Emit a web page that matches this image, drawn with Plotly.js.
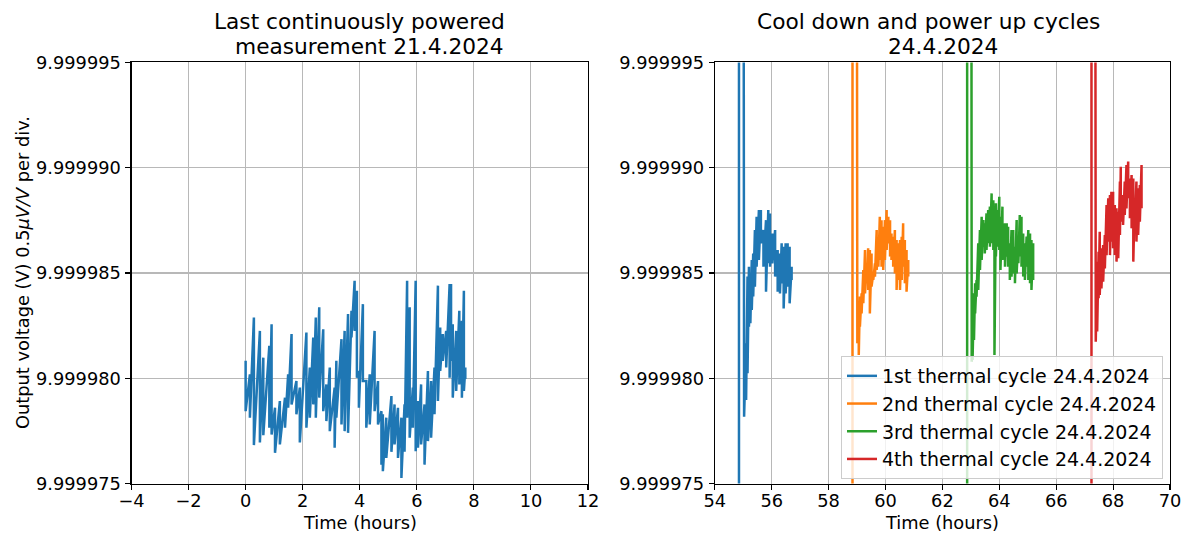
<!DOCTYPE html>
<html>
<head>
<meta charset="utf-8">
<script src="https://cdn.plot.ly/plotly-3.0.1.min.js"></script>
<style>
  html, body { margin: 0; padding: 0; background: #fff; }
  #chart { width: 1188px; height: 534px; }
</style>
</head>
<body>
<div id="chart"></div>
<script>
// Values are in microvolts relative to 9.999980 V
const BASE_V = 9.999980;

// ---- Left: last continuously powered measurement 21.4.2024 ----
const hoursL = [0.00,0.15,0.29,0.50,0.62,0.83,0.91,1.03,1.20,1.38,1.49,1.61,1.78,1.90,2.13,2.25,2.37,2.46,2.58,2.72,2.83,2.95,3.12,3.18,3.36,3.47,3.59,3.71,3.82,3.90,3.97,4.11,4.23,4.35,4.52,4.64,4.76,4.81,4.93,5.11,5.22,5.34,5.46,5.57,5.66,5.75,5.86,5.96,6.04,6.15,6.27,6.39,6.50,6.62,6.74,6.82,6.91,7.03,7.15,7.20,7.26,7.38,7.49,7.58,7.65,7.70];
const hiL = [0.83,0.19,2.89,2.25,0.98,1.54,2.57,-1.40,-1.08,-0.92,0.19,2.10,-0.13,-0.44,2.17,0.51,1.94,2.89,3.37,2.33,-0.29,0.51,-0.44,0.83,1.86,2.25,3.05,3.21,4.63,4.16,0.35,3.52,-0.13,0.19,2.25,-0.13,-1.56,-1.71,-1.87,-0.84,-1.24,-1.40,-1.87,-1.24,4.63,3.37,-0.44,4.63,-1.08,-0.29,-1.24,0.35,-0.13,0.51,4.40,2.41,2.10,2.25,4.48,4.48,2.57,2.25,3.21,2.73,4.16,0.51];
const loL = [-1.56,-1.87,-3.17,-3.05,-2.70,-2.35,-2.67,-3.54,-3.14,-2.35,-1.40,-1.24,-1.71,-3.05,-2.35,-1.87,-1.24,-1.87,-0.92,-1.56,-2.03,-2.51,-3.30,-1.87,-2.19,-2.51,-2.59,1.94,2.25,0.03,-1.40,-0.13,-2.35,-2.19,-1.56,-2.19,-4.10,-4.41,-3.78,-3.49,-3.14,-3.78,-4.73,-3.49,-1.87,-2.82,-2.35,-3.46,-3.30,-3.14,-4.10,-2.98,-2.82,-1.71,-1.08,0.35,0.83,0.51,0.03,0.83,-0.92,-0.60,-0.29,-0.92,-0.60,-0.03];

// ---- Right: cool down and power up cycles 24.4.2024 ----
const cycleNames = ["1st thermal cycle 24.4.2024","2nd thermal cycle 24.4.2024","3rd thermal cycle 24.4.2024","4th thermal cycle 24.4.2024"];
const cycleColors = ["#1f77b4","#ff7f0e","#2ca02c","#d62728"];

// power-up transient (goes off-scale)
const spikeH1 = [54.85,54.85,55.00];
const spikeV1 = [-40,40,40];
const spikeH2 = [58.84,58.84,58.98];
const spikeV2 = [-40,40,40];
const spikeH3 = [62.87,62.87,63.01];
const spikeV3 = [-40,40,40];
const spikeH4 = [67.24,67.24,67.36];
const spikeV4 = [-40,40,40];

const hours1 = [55.03,55.10,55.15,55.20,55.25,55.30,55.35,55.41,55.47,55.55,55.62,55.71,55.80,55.88,55.94,56.02,56.12,56.21,56.29,56.35,56.42,56.49,56.56,56.63,56.70];
const hi1 = [-1.03,1.66,4.83,5.30,4.98,5.62,5.93,7.04,7.67,7.99,7.99,7.04,7.51,7.99,7.83,6.88,7.04,6.09,5.93,6.41,6.25,6.41,6.41,6.25,5.30];
const lo1 = [-1.82,-1.03,0.24,2.45,2.61,3.24,3.88,4.35,5.30,5.62,6.41,5.30,4.11,5.46,5.30,5.46,4.83,4.11,4.03,4.51,3.32,4.03,4.35,3.56,4.67];

const hours2 = [59.01,59.06,59.10,59.16,59.22,59.28,59.34,59.39,59.45,59.51,59.57,59.63,59.69,59.75,59.80,59.86,59.92,59.98,60.04,60.10,60.16,60.21,60.27,60.33,60.39,60.45,60.51,60.57,60.62,60.68,60.74,60.80];
const hi2 = [2.13,2.61,3.88,4.03,5.14,6.09,5.46,6.17,6.09,5.93,4.98,5.46,7.04,6.72,7.67,7.51,7.20,7.51,7.99,7.67,7.51,6.88,6.72,7.04,6.57,6.41,6.57,6.72,7.36,6.57,6.09,5.62];
const lo2 = [1.66,1.11,2.45,3.08,3.56,4.03,4.51,4.19,3.08,4.35,4.67,4.83,5.14,5.30,5.62,5.30,5.14,5.62,6.09,6.41,5.78,5.62,5.30,4.98,4.19,4.67,4.19,4.67,5.30,4.51,4.11,4.83];

const hours3 = [63.03,63.06,63.11,63.15,63.20,63.26,63.32,63.38,63.44,63.49,63.55,63.61,63.67,63.73,63.79,63.83,63.88,63.93,64.00,64.04,64.11,64.20,64.26,64.31,64.37,64.43,64.49,64.55,64.61,64.67,64.72,64.78,64.84,64.90,64.96,65.02,65.08,65.13,65.19];
const hi3 = [1.50,2.77,4.04,4.51,4.67,6.41,7.04,7.67,7.52,7.36,7.83,7.99,8.15,8.78,8.46,8.15,8.31,7.99,8.62,7.67,8.15,7.36,7.36,7.20,6.41,7.04,7.04,6.25,7.52,6.73,7.75,7.67,6.88,6.41,6.73,7.04,6.88,6.57,6.41];
const lo3 = [0.78,0.87,1.82,3.08,3.88,4.19,5.14,5.62,6.25,5.93,6.09,6.41,6.25,6.41,6.09,1.11,5.78,6.25,6.09,5.14,5.62,5.30,5.78,5.30,4.67,4.83,4.98,4.51,4.98,5.46,5.78,5.30,4.83,4.67,5.30,4.67,4.51,4.19,4.67];

const hours4 = [67.39,67.44,67.49,67.53,67.59,67.65,67.71,67.77,67.83,67.89,67.94,68.00,68.06,68.12,68.18,68.24,68.27,68.35,68.41,68.47,68.53,68.59,68.65,68.71,68.76,68.82,68.88,68.94,69.00];
const hi4 = [4.59,5.54,6.01,6.96,6.17,6.33,6.80,8.23,8.55,8.70,8.86,8.86,8.23,8.07,7.91,9.34,10.05,8.70,9.34,10.13,10.29,9.49,9.65,9.49,8.55,9.34,9.02,9.18,10.13];
const lo4 = [1.74,2.22,3.80,3.96,4.27,4.59,5.22,5.85,6.49,5.85,6.49,6.17,5.85,5.54,5.70,6.80,7.44,7.28,7.76,8.07,8.55,7.60,7.12,5.54,7.12,6.49,6.81,7.44,8.07];

const toV = uv => BASE_V + uv * 1e-6;

function buildXY(spikeH, spikeV, hours, hi, lo) {
  const x = [], y = [];
  for (let i = 0; i < spikeH.length; i++) { x.push(spikeH[i]); y.push(toV(spikeV[i])); }
  for (let i = 0; i < hours.length; i++) {
    x.push(hours[i]); y.push(toV(hi[i]));
    x.push(hours[i]); y.push(toV(lo[i]));
  }
  return {x, y};
}

const FONT = "DejaVu Sans, sans-serif";
const LW = 2.5;
const traces = [];
const left = buildXY([], [], hoursL, hiL, loL);
traces.push({type:"scatter", mode:"lines", x:left.x, y:left.y, xaxis:"x", yaxis:"y",
  line:{color:"#1f77b4", width:LW}, showlegend:false, hoverinfo:"skip"});

const cyc = [
  [spikeH1, spikeV1, hours1, hi1, lo1],
  [spikeH2, spikeV2, hours2, hi2, lo2],
  [spikeH3, spikeV3, hours3, hi3, lo3],
  [spikeH4, spikeV4, hours4, hi4, lo4]
];
cyc.forEach((c, i) => {
  const d = buildXY(c[0], c[1], c[2], c[3], c[4]);
  traces.push({type:"scatter", mode:"lines", x:d.x, y:d.y, xaxis:"x2", yaxis:"y2",
    name: cycleNames[i], legendgroup: "g" + i,
    line:{color:cycleColors[i], width:LW}, hoverinfo:"skip"});
});

const yTicks = [9.999975, 9.999980, 9.999985, 9.999990, 9.999995];
const TICK_SIZE = 17.8;
const axisCommon = {
  showline:true, mirror:true, linecolor:"#000", linewidth:1.1,
  ticks:"outside", ticklen:5, tickwidth:1.1, tickcolor:"#000",
  showgrid:true, gridcolor:"#b8b8b8", gridwidth:1.1, zeroline:false,
  tickfont:{family:FONT, size:TICK_SIZE, color:"#000"}
};
const xDomL = [131.5/1188, 588/1188];
const xDomR = [714.8/1188, 1170/1188];
const yDom = [1 - 483.6/534, 1 - 62.4/534];

const yPx = px => 1 - px/534;
const xPx = px => px/1188;
const TITLE_SIZE = 21.7;

const layout = {
  width:1188, height:534,
  margin:{l:0, r:0, t:0, b:0},
  paper_bgcolor:"#fff", plot_bgcolor:"#fff",
  font:{family:FONT, color:"#000"},
  xaxis: Object.assign({}, axisCommon, {domain:xDomL, range:[-4,12], dtick:2, tick0:0, anchor:"y", ticklabelstandoff:-4}),
  yaxis: Object.assign({}, axisCommon, {domain:yDom, range:[9.999975, 9.999995], tickvals:yTicks, tickformat:".6f", anchor:"x", ticklabelstandoff:1}),
  xaxis2: Object.assign({}, axisCommon, {domain:xDomR, range:[54,70], dtick:2, tick0:54, anchor:"y2", ticklabelstandoff:-4}),
  yaxis2: Object.assign({}, axisCommon, {domain:yDom, range:[9.999975, 9.999995], tickvals:yTicks, tickformat:".6f", anchor:"x2", ticklabelstandoff:1}),
  showlegend:true,
  legend:{
    x:1163/1188, y:yPx(479), xanchor:"right", yanchor:"bottom",
    bgcolor:"rgba(255,255,255,0.8)", bordercolor:"#cccccc", borderwidth:1,
    font:{family:FONT, size:19, color:"#000"}, tracegroupgap:0
  },
  annotations:[
    {text:"Last continuously powered", xref:"paper", yref:"paper",
     x:xPx(359), y:yPx(22), xanchor:"center", yanchor:"middle", showarrow:false,
     font:{family:FONT, size:TITLE_SIZE, color:"#000"}},
    {text:"measurement 21.4.2024", xref:"paper", yref:"paper",
     x:xPx(369), y:yPx(47), xanchor:"center", yanchor:"middle", showarrow:false,
     font:{family:FONT, size:TITLE_SIZE, color:"#000"}},
    {text:"Cool down and power up cycles", xref:"paper", yref:"paper",
     x:xPx(928), y:yPx(22), xanchor:"center", yanchor:"middle", showarrow:false,
     font:{family:FONT, size:TITLE_SIZE, color:"#000"}},
    {text:"24.4.2024", xref:"paper", yref:"paper",
     x:xPx(943), y:yPx(47), xanchor:"center", yanchor:"middle", showarrow:false,
     font:{family:FONT, size:TITLE_SIZE, color:"#000"}},
    {text:"Time (hours)", xref:"paper", yref:"paper",
     x:(xDomL[0]+xDomL[1])/2, y:yPx(522), xanchor:"center", yanchor:"middle", showarrow:false,
     font:{family:FONT, size:TICK_SIZE, color:"#000"}},
    {text:"Time (hours)", xref:"paper", yref:"paper",
     x:(xDomR[0]+xDomR[1])/2, y:yPx(522), xanchor:"center", yanchor:"middle", showarrow:false,
     font:{family:FONT, size:TICK_SIZE, color:"#000"}},
    {text:"Output voltage (V) 0.5<i>μV/V</i> per div.", xref:"paper", yref:"paper",
     x:xPx(22), y:(yDom[0]+yDom[1])/2, xanchor:"center", yanchor:"middle", textangle:-90, showarrow:false,
     font:{family:FONT, size:TICK_SIZE, color:"#000"}}
  ]
};

Plotly.newPlot("chart", traces, layout, {displayModeBar:false, staticPlot:true});
</script>
</body>
</html>
